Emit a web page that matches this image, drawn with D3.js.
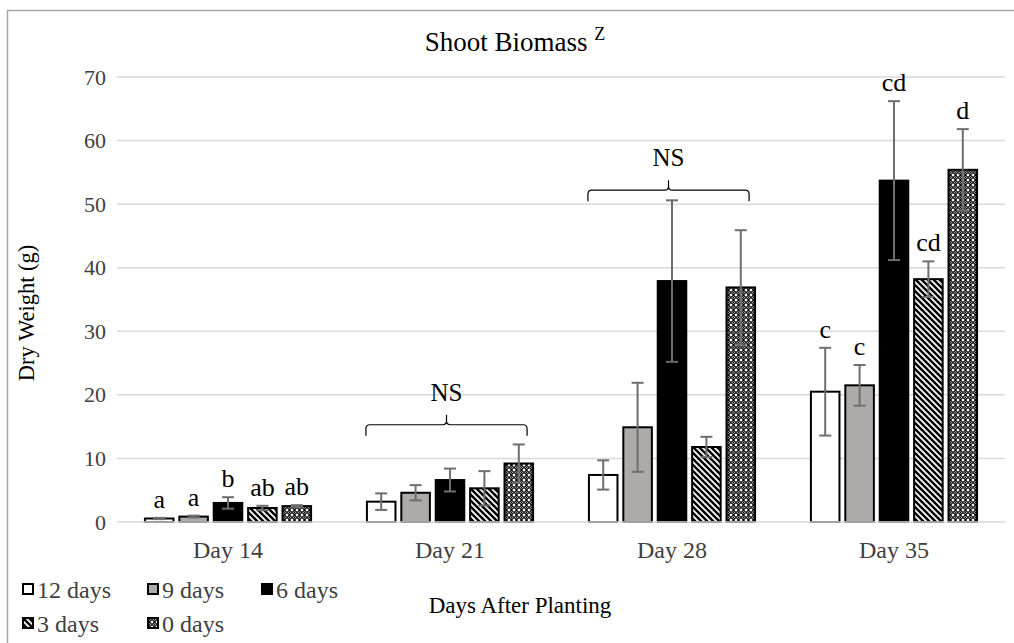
<!DOCTYPE html>
<html>
<head>
<meta charset="utf-8">
<script src="https://cdn.jsdelivr.net/npm/d3@7"></script>
<style>
  html, body { margin: 0; padding: 0; background: #fff; }
  svg { display: block; }
</style>
</head>
<body>
<svg id="chart" width="1014" height="643"></svg>
<script>
const FONT = "'Liberation Serif', 'Times New Roman', Tinos, 'DejaVu Serif', serif";

// Sampling days after planting
const categories = ["Day 14", "Day 21", "Day 28", "Day 35"];
// Treatments (legend entries)
const series = ["12 days", "9 days", "6 days", "3 days", "0 days"];

// Mean shoot dry weight (g) per treatment, one array per sampling day
const day14 = [0.55, 0.85, 3.0, 2.2, 2.5];
const day21 = [3.2, 4.6, 6.6, 5.3, 9.2];
const day28 = [7.4, 14.9, 37.9, 11.8, 36.9];
const day35 = [20.5, 21.5, 53.7, 38.2, 55.4];

// Error (± g) per treatment
const err14 = [0.1, 0.15, 0.9, 0.35, 0.15];
const err21 = [1.3, 1.2, 1.8, 2.7, 3.0];
const err28 = [2.3, 7.0, 12.7, 1.6, 9.0];
const err35 = [6.9, 3.2, 12.5, 2.8, 6.4];

// Mean separation letters (empty = none shown)
const letters14 = ["a", "a", "b", "ab", "ab"];
const letters35 = ["c", "c", "cd", "cd", "d"];

// Non-significant brackets: category and bracket height (g)
const nsCategories = ["Day 21", "Day 28"];
const nsHeights = [15.3, 52.2];

const yTicks = [0, 10, 20, 30, 40, 50, 60, 70];

const means = [day14, day21, day28, day35];
const errs = [err14, err21, err28, err35];
const letters = [letters14, [], [], letters35];

const svg = d3.select("#chart").attr("font-family", FONT).style("font-family", FONT);
const defs = svg.append("defs");

// Wide downward diagonal stripes
const stripe = defs.append("pattern")
  .attr("id", "stripes").attr("patternUnits", "userSpaceOnUse")
  .attr("width", 6).attr("height", 6);
stripe.append("rect").attr("width", 6).attr("height", 6).attr("fill", "#000");
stripe.append("path")
  .attr("d", "M-1,-1 L7,7 M-4,2 L2,8 M4,-2 L10,4")
  .attr("stroke", "#fff").attr("stroke-width", 1.8);

// Lattice of white dots on black
const dots = defs.append("pattern")
  .attr("id", "dots").attr("patternUnits", "userSpaceOnUse")
  .attr("width", 5).attr("height", 5);
dots.append("rect").attr("width", 5).attr("height", 5).attr("fill", "#fff");
dots.append("path")
  .attr("d", "M0,2.5 L2.5,0 L5,2.5 L2.5,5 Z")
  .attr("fill", "none").attr("stroke", "#000").attr("stroke-width", 1.1);
dots.append("circle").attr("cx", 2.5).attr("cy", 2.5).attr("r", 0.9).attr("fill", "#000");

const fills = ["#ffffff", "#aeaaaa", "#000000", "url(#stripes)", "url(#dots)"];

// Chart area outline
svg.append("rect")
  .attr("x", 7.5).attr("y", 10.5).attr("width", 1030).attr("height", 660)
  .attr("fill", "#fff").attr("stroke", "#a6a6a6").attr("stroke-width", 1.5);

const plot = { left: 117, right: 1005, top: 77, bottom: 522 };

const x0 = d3.scaleBand().domain(categories).range([plot.left, plot.right]);
const x1 = d3.scaleBand().domain(series).range([25, x0.bandwidth() - 25])
  .paddingInner(0.17).paddingOuter(0.085);
const y = d3.scaleLinear().domain([0, 70]).range([plot.bottom, plot.top]);

// Gridlines
svg.append("g").selectAll("line").data(yTicks.filter(t => t > 0)).join("line")
  .attr("x1", plot.left).attr("x2", plot.right)
  .attr("y1", d => y(d)).attr("y2", d => y(d))
  .attr("stroke", "#d9d9d9").attr("stroke-width", 1.5);

// Y axis labels
const yAxis = svg.append("g").attr("transform", `translate(${plot.left},0)`)
  .call(d3.axisLeft(y).tickValues(yTicks).tickSize(0).tickPadding(11));
yAxis.attr("font-family", FONT);
yAxis.select(".domain").remove();
yAxis.selectAll("text").attr("font-size", 22).attr("fill", "#404040");

// Bars
const groups = svg.append("g").selectAll("g").data(categories).join("g")
  .attr("transform", d => `translate(${x0(d)},0)`);

groups.each(function (cat, ci) {
  const g = d3.select(this);
  const rows = series.map((s, si) => ({
    s, si, v: means[ci][si], e: errs[ci][si], lab: letters[ci][si] || ""
  }));
  g.selectAll("rect").data(rows).join("rect")
    .attr("x", d => x1(d.s)).attr("width", x1.bandwidth())
    .attr("y", d => y(d.v)).attr("height", d => y(0) - y(d.v))
    .attr("fill", d => fills[d.si])
    .attr("stroke", "#000").attr("stroke-width", 2);

  // Error bars
  const eb = g.selectAll("g.err").data(rows).join("g").attr("class", "err")
    .attr("stroke", "#6e6e6e").attr("stroke-width", 2);
  const cx = d => x1(d.s) + x1.bandwidth() / 2;
  eb.append("line").attr("x1", cx).attr("x2", cx)
    .attr("y1", d => y(d.v - d.e)).attr("y2", d => y(d.v + d.e));
  eb.append("line").attr("x1", d => cx(d) - 6).attr("x2", d => cx(d) + 6)
    .attr("y1", d => y(d.v + d.e)).attr("y2", d => y(d.v + d.e));
  eb.append("line").attr("x1", d => cx(d) - 6).attr("x2", d => cx(d) + 6)
    .attr("y1", d => y(d.v - d.e)).attr("y2", d => y(d.v - d.e));

  // Letters
  g.selectAll("text.letter").data(rows.filter(d => d.lab)).join("text")
    .attr("class", "letter")
    .attr("x", cx).attr("y", d => y(d.v + d.e) - 10)
    .attr("text-anchor", "middle").attr("font-size", 26)
    .text(d => d.lab);
});

// NS brackets
nsCategories.forEach((cat, i) => {
  const xa = x0(cat) + x1(series[0]) - 1;
  const xb = x0(cat) + x1(series[4]) + x1.bandwidth() - 6;
  const xm = (xa + xb) / 2;
  const yt = y(nsHeights[i]);
  const r = 4;
  const path = `M${xa},${yt + 11} L${xa},${yt + r} Q${xa},${yt} ${xa + r},${yt}
    L${xm - r},${yt} Q${xm},${yt} ${xm},${yt - r} L${xm},${yt - 10}
    M${xm},${yt - r} Q${xm},${yt} ${xm + r},${yt} L${xb - r},${yt}
    Q${xb},${yt} ${xb},${yt + r} L${xb},${yt + 11}`;
  svg.append("path").attr("d", path).attr("fill", "none")
    .attr("stroke", "#000").attr("stroke-width", 1.2);
  svg.append("text").attr("x", xm).attr("y", yt - 24)
    .attr("text-anchor", "middle").attr("font-size", 25).text("NS");
});

// Baseline
svg.append("line").attr("x1", plot.left).attr("x2", plot.right)
  .attr("y1", y(0)).attr("y2", y(0))
  .attr("stroke", "#d9d9d9").attr("stroke-width", 1.5);

// Category labels
svg.append("g").selectAll("text").data(categories).join("text")
  .attr("x", d => x0(d) + x0.bandwidth() / 2).attr("y", 558)
  .attr("text-anchor", "middle").attr("font-size", 24).attr("fill", "#404040")
  .text(d => d);

// Title
const title = svg.append("text").attr("x", 515).attr("y", 51)
  .attr("text-anchor", "middle").attr("font-size", 27);
title.append("tspan").text("Shoot Biomass ");
title.append("tspan").attr("font-size", 18).attr("dy", -11).text("Z");

// Axis titles
svg.append("text")
  .attr("transform", "translate(34,313) rotate(-90)")
  .attr("text-anchor", "middle").attr("font-size", 22.5).text("Dry Weight (g)");
svg.append("text").attr("x", 520).attr("y", 613)
  .attr("text-anchor", "middle").attr("font-size", 23).text("Days After Planting");

// Legend
const legendPos = [[22, 598], [147, 598], [261, 598], [22, 632], [147, 632]];
const leg = svg.append("g").selectAll("g").data(series).join("g")
  .attr("transform", (d, i) => `translate(${legendPos[i][0]},${legendPos[i][1]})`);
leg.append("rect").attr("x", 1).attr("y", -14).attr("width", 10).attr("height", 10)
  .attr("fill", (d, i) => fills[i]).attr("stroke", "#000").attr("stroke-width", 2);
leg.append("text").attr("x", 15).attr("y", 0).attr("font-size", 24)
  .attr("fill", "#404040").text(d => d);
</script>
</body>
</html>
